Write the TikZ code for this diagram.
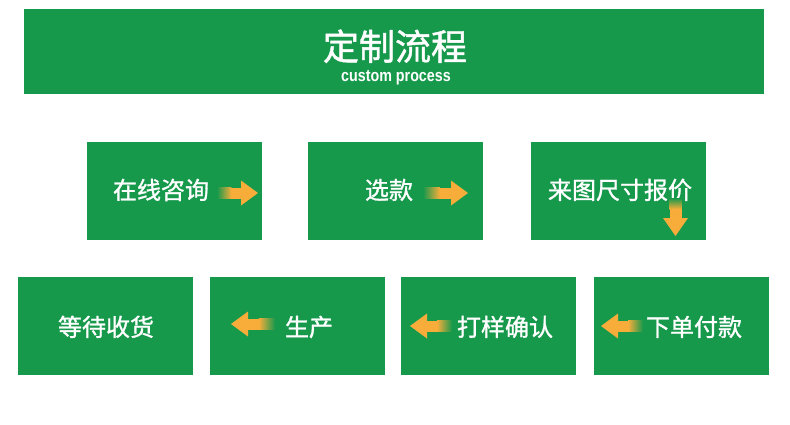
\documentclass[tikz,border=0pt]{standalone}
\usepackage{fontspec}
\usepackage{graphicx}
\newfontfamily\cjk[FakeBold=1.2]{Noto Sans CJK SC}
\newfontfamily\lat{Liberation Sans}
\definecolor{boxgreen}{HTML}{17994C}
\definecolor{arrorange}{HTML}{F8AD3A}
\tikzset{
  stepbox/.style={fill=boxgreen, draw=none, minimum width=175pt, minimum height=98pt, inner sep=0pt, anchor=north west},
  steptext/.style={text=white, font=\cjk\fontsize{24}{24}\selectfont, inner sep=0pt, anchor=base},
}
\newcommand\rarr[3]{% x1 x2 y  (tail x1, tip x2)
  \shade[left color=boxgreen, right color=arrorange] (#1,#3-5.5) rectangle ({#1+0.6*(#2-17-#1)},#3+5.5);
  \fill[arrorange] ({#1+0.6*(#2-17-#1)-0.3},#3-5.5) rectangle (#2-16,#3+5.5);
  \fill[arrorange] (#2-17,#3-12.5) -- (#2,#3) -- (#2-17,#3+12.5) -- cycle;
}
\newcommand\larr[3]{% x1 x2 y  (tip x1, tail x2)
  \shade[left color=arrorange, right color=boxgreen] ({#2-0.6*(#2-17-#1)},#3-5.5) rectangle (#2,#3+5.5);
  \fill[arrorange] (#1+16,#3-5.5) rectangle ({#2-0.6*(#2-17-#1)+0.3},#3+5.5);
  \fill[arrorange] (#1+17,#3-12.5) -- (#1,#3) -- (#1+17,#3+12.5) -- cycle;
}
\begin{document}
\begin{tikzpicture}[x=1pt,y=-1pt]
\useasboundingbox (0,0) rectangle (790,424);
\fill[white] (0,0) rectangle (790,424);
% header
\node[fill=boxgreen, minimum width=740pt, minimum height=85pt, inner sep=0pt, anchor=north west] (header) at (24,9) {};
\node[text=white, font=\cjk\fontsize{36}{36}\selectfont, inner sep=0pt, anchor=base] (title) at (395,60) {定制流程};
\node[text=white, font=\lat\bfseries\fontsize{17}{17}\selectfont, inner sep=0pt, anchor=base] (subtitle) at (396,81) {\scalebox{0.84}[1]{custom process}};
% row 1
\node[stepbox] (b1) at (87,142) {};
\node[stepbox] (b2) at (308,142) {};
\node[stepbox] (b3) at (531,142) {};
% row 2
\node[stepbox] (b4) at (594,277) {};
\node[stepbox] (b5) at (401,277) {};
\node[stepbox] (b6) at (210,277) {};
\node[stepbox] (b7) at (18,277) {};
% texts
\node[steptext] (t1) at (161,199) {在线咨询};
\node[steptext] (t2) at (389,199) {选款};
\node[steptext] (t3) at (620,199) {来图尺寸报价};
\node[steptext] (t4) at (694,336) {下单付款};
\node[steptext] (t5) at (505,336) {打样确认};
\node[steptext] (t6) at (309,336) {生产};
\node[steptext] (t7) at (106,336) {等待收货};
% arrows
\rarr{217}{258}{193}
\rarr{423}{468}{193}
\larr{231}{275}{324}
\larr{410}{452}{326}
\larr{601}{643}{326}
% down arrow
\shade[top color=boxgreen, bottom color=arrorange] (669.5,198) rectangle (681.5,209);
\fill[arrorange] (669.5,208.7) rectangle (681.5,219);
\fill[arrorange] (663,218) -- (675.5,236) -- (688,218) -- cycle;
\end{tikzpicture}
\end{document}
